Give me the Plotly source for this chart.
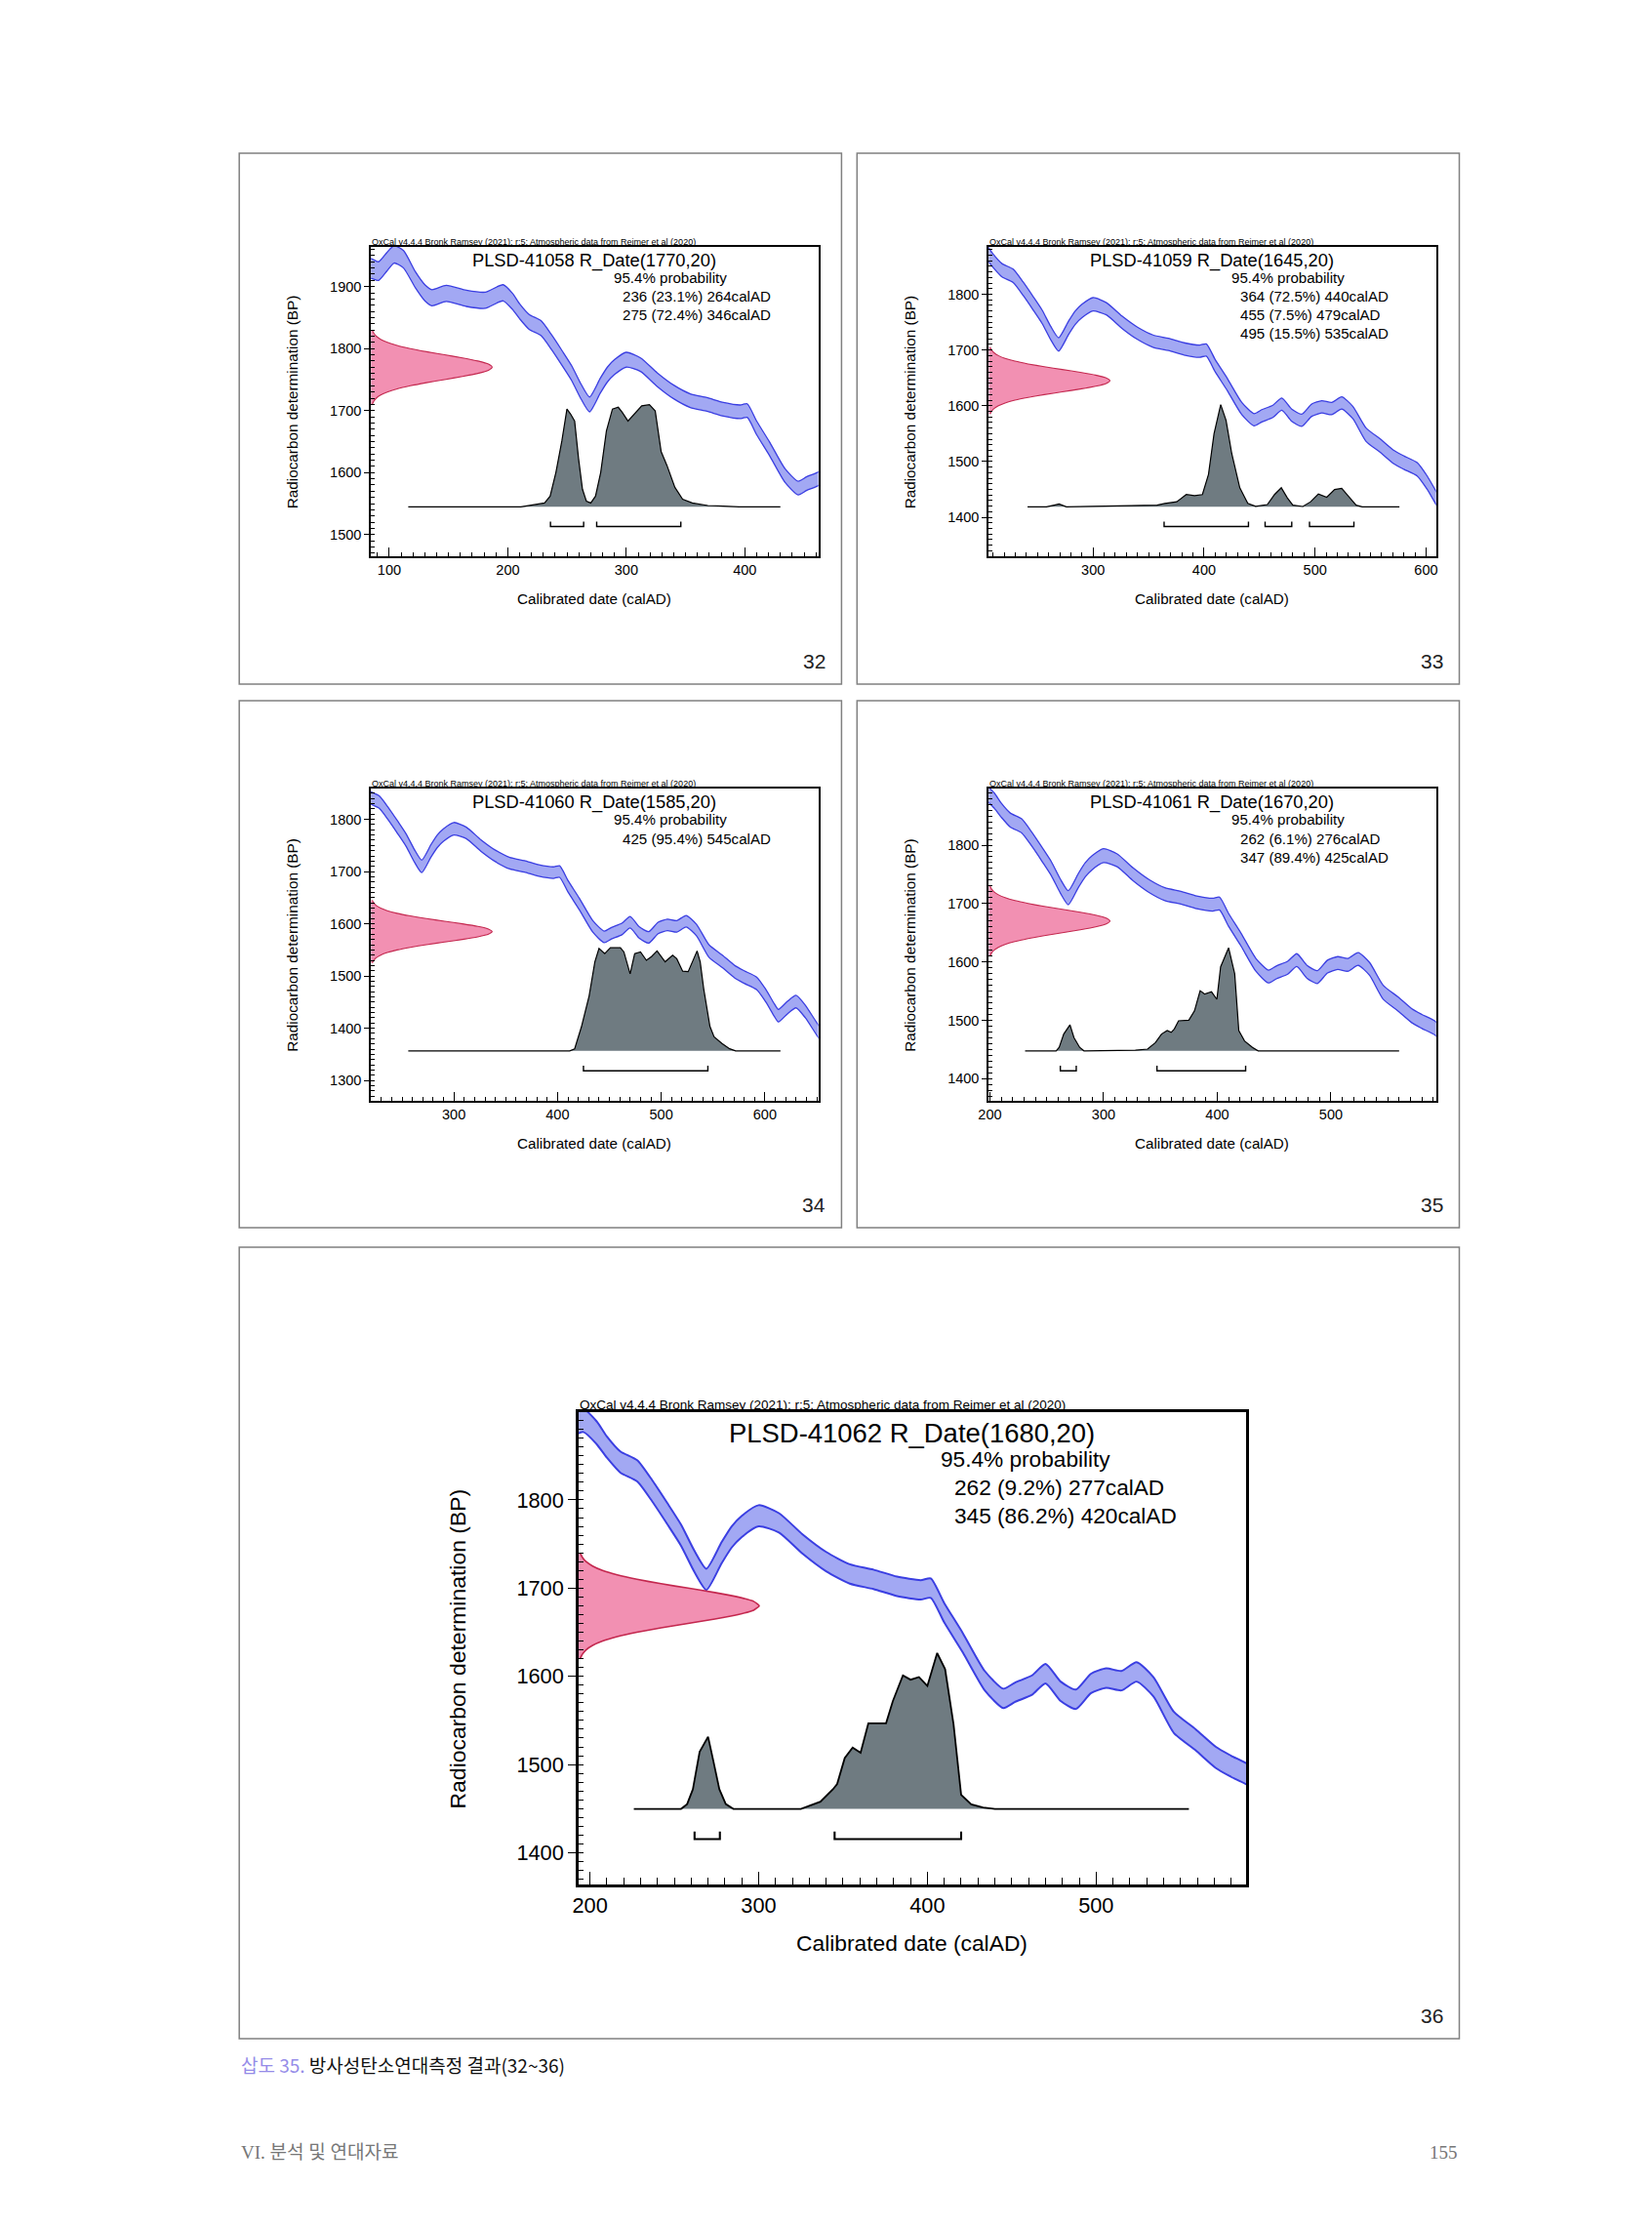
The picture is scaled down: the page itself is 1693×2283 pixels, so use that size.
import plotly.graph_objects as go

W, H = 1693, 2283

# ---------------- data ----------------
# calibration curve (IntCal20) : calendar year AD, BP centre, half width of the band
CAL_X = [80, 85, 91, 98, 104, 112, 122, 130, 136, 148, 165, 181, 196, 204, 210, 218, 228, 237, 246, 254,
         262, 269, 278, 284, 290, 300, 312, 326, 340, 354, 368, 382, 396, 402, 410, 421, 434, 445, 452, 462,
         470, 479, 488, 497, 506, 515, 524, 534, 546, 559, 571, 580, 592, 601, 609, 613, 622, 630, 639, 652, 660]
CAL_BP = [1930, 1929, 1925, 1940, 1952, 1944, 1911, 1890, 1882, 1889, 1881, 1878, 1890, 1876, 1860, 1843, 1833, 1810, 1784, 1760,
          1730, 1710, 1740, 1758, 1770, 1782, 1774, 1750, 1730, 1716, 1710, 1702, 1698, 1700, 1672, 1638, 1595, 1575, 1582, 1590,
          1603, 1583, 1574, 1592, 1598, 1595, 1605, 1588, 1548, 1528, 1508, 1498, 1486, 1462, 1435, 1424, 1440, 1451, 1432, 1393, 1375]
CAL_SIG = [16, 16, 15, 15, 14, 14, 13, 13, 13, 13, 13, 13, 13, 13, 12, 12, 12, 12, 12, 12,
           12, 12, 12, 12, 12, 12, 11, 11, 11, 11, 11, 11, 11, 11, 11, 11, 11, 11, 11, 11,
           11, 11, 11, 11, 11, 11, 11, 11, 12, 12, 12, 12, 12, 12, 12, 12, 12, 12, 12, 12, 12]

# measured radiocarbon date profile (offset from the date in BP, relative height)
RED_OFF = [-60, -55, -50, -45, -40, -35, -30, -25, -20, -15, -10, -5, 0, 5, 10, 15, 20, 25, 30, 35, 40, 45, 50, 55, 60]
RED_H = [0.011, 0.023, 0.044, 0.080, 0.135, 0.216, 0.325, 0.458, 0.607, 0.755, 0.882, 0.969, 1.0,
         0.969, 0.882, 0.755, 0.607, 0.458, 0.325, 0.216, 0.135, 0.080, 0.044, 0.023, 0.011]

NUMS = ["32", "33", "34", "35", "36"]
LABS = ["PLSD-41058", "PLSD-41059", "PLSD-41060", "PLSD-41061", "PLSD-41062"]
BPS = [1770, 1645, 1585, 1670, 1680]
ERRS = [20, 20, 20, 20, 20]

R32_FROM = [236, 275]
R32_PCT = ["23.1", "72.4"]
R32_TO = [264, 346]
R33_FROM = [364, 455, 495]
R33_PCT = ["72.5", "7.5", "15.5"]
R33_TO = [440, 479, 535]
R34_FROM = [425]
R34_PCT = ["95.4"]
R34_TO = [545]
R35_FROM = [262, 347]
R35_PCT = ["6.1", "89.4"]
R35_TO = [276, 425]
R36_FROM = [262, 345]
R36_PCT = ["9.2", "86.2"]
R36_TO = [277, 420]

# calibrated (posterior) distributions, relative probability
D32_X = [116, 211, 221, 231, 235.7, 240.6, 245.6, 249.9, 253, 256.4, 259.7, 263, 266.3, 270, 274, 278.4, 283.2,
         288.3, 293.2, 296.5, 301.4, 306.4, 313, 319.5, 324.4, 329.4, 334.3, 341, 347.5, 355.7, 368.8, 381.9, 395, 430]
D32_P = [0, 0, 0.018, 0.037, 0.104, 0.337, 0.644, 0.957, 0.908, 0.840, 0.472, 0.172, 0.055, 0.037, 0.104, 0.337, 0.742,
         0.957, 0.975, 0.926, 0.840, 0.908, 0.988, 1.0, 0.939, 0.540, 0.405, 0.190, 0.074, 0.037, 0.012, 0.006, 0, 0]
D33_X = [241, 258, 265, 269.4, 276, 343, 357.6, 364.7, 375.4, 384, 391.4, 398.5, 404, 409, 415, 419.8, 425, 432.2,
         439.4, 446.5, 457, 463.5, 469.6, 475, 480, 489, 496, 503, 510.5, 517.6, 524, 530, 537, 542.5, 576]
D33_P = [0, 0, 0.016, 0.027, 0, 0.008, 0.016, 0.033, 0.049, 0.120, 0.109, 0.120, 0.317, 0.716, 1.0, 0.847, 0.519, 0.186,
         0.033, 0.005, 0.022, 0.120, 0.186, 0.087, 0.016, 0.003, 0.049, 0.126, 0.093, 0.169, 0.180, 0.104, 0.016, 0, 0]
D34_X = [256, 411.7, 416.5, 423, 430.5, 436, 440, 445.5, 451, 460.6, 464, 470, 474.4, 480, 485.7, 490.6, 496, 503.8,
         511, 515, 520.7, 526, 534.6, 537.6, 541, 547, 551, 558.6, 566, 571.8, 615]
D34_P = [0, 0, 0.020, 0.232, 0.535, 0.864, 0.995, 0.944, 1.0, 1.0, 0.960, 0.747, 0.944, 0.960, 0.879, 0.914, 0.970, 0.864,
         0.929, 0.894, 0.773, 0.768, 0.970, 0.864, 0.601, 0.237, 0.136, 0.071, 0.020, 0, 0]
D35_X = [231, 258.3, 261, 265, 270.5, 274, 279, 282.8, 328, 338.7, 345.6, 351, 356, 359.5, 362.3, 366, 375, 380, 385,
         389, 395, 399.7, 403, 410, 415.4, 419, 424, 431, 436, 560]
D35_P = [0, 0, 0.034, 0.163, 0.253, 0.129, 0.034, 0, 0.006, 0.017, 0.079, 0.163, 0.197, 0.180, 0.213, 0.292, 0.298, 0.388,
         0.584, 0.551, 0.573, 0.500, 0.815, 1.0, 0.747, 0.197, 0.096, 0.034, 0, 0]
D36_X = [226, 254, 257.6, 261, 265, 270, 273, 276.7, 280.5, 285, 325, 331, 336.6, 344, 346.5, 351, 355.7, 360.4, 365,
         375.5, 379.5, 385.5, 390, 395, 400, 405.8, 410.5, 415.5, 420, 426, 433, 440, 555]
D36_P = [0, 0, 0.031, 0.126, 0.366, 0.463, 0.314, 0.126, 0.031, 0, 0, 0.023, 0.046, 0.126, 0.160, 0.326, 0.394, 0.360,
         0.549, 0.549, 0.691, 0.857, 0.829, 0.846, 0.789, 1.0, 0.897, 0.543, 0.091, 0.029, 0.009, 0, 0]

DIST_X = [D32_X, D33_X, D34_X, D35_X, D36_X]
DIST_P = [D32_P, D33_P, D34_P, D35_P, D36_P]
R_FROM = [R32_FROM, R33_FROM, R34_FROM, R35_FROM, R36_FROM]
R_PCT = [R32_PCT, R33_PCT, R34_PCT, R35_PCT, R36_PCT]
R_TO = [R32_TO, R33_TO, R34_TO, R35_TO, R36_TO]

HEADER = "OxCal v4.4.4 Bronk Ramsey (2021); r:5; Atmospheric data from Reimer et al (2020)"

# ---------------- layout (pixels on the page) ----------------
PANELS = [
    dict(frame=(372, 253, 834, 570), xr=(84.5, 462), yr=(1465, 1964), box=(236, 157, 858, 701), s=1.0, ytg=81, xtg=43),
    dict(frame=(1010, 253, 1472, 570), xr=(206, 609), yr=(1330, 1885), box=(874, 157, 1496, 701), s=1.0, ytg=81, xtg=43),
    dict(frame=(372, 808, 834, 1128), xr=(220, 651.5), yr=(1261, 1859), box=(236, 718, 858, 1258), s=1.0, ytg=81, xtg=43),
    dict(frame=(1010, 808, 1472, 1128), xr=(199, 592.5), yr=(1362, 1897), box=(874, 718, 1496, 1258), s=1.0, ytg=81, xtg=43),
    dict(frame=(586, 1447, 1276, 1931), xr=(193, 589), yr=(1364, 1899.5), box=(236, 1278, 1496, 2089), s=1.5, ytg=124, xtg=60),
]

BAND_FILL = "rgba(152,158,242,0.9)"
BAND_EDGE = "#3a3ee2"
PINK = "#f290b2"
PINK_EDGE = "#c4284f"
GREY = "#6f7b81"
FONT = "Liberation Sans, Arial, sans-serif"

RED_WIDTH_FRAC = 0.271     # peak of measured profile, as fraction of frame width
BASE_FRAC = 0.16           # baseline of calibrated distribution, fraction of frame height
PEAK_FRAC = 0.33           # height of calibrated peak, fraction of frame height


def px(x, y):
    return x / W, 1 - y / H


def aname(prefix, n):
    return prefix + ("" if n == 1 else str(n))


fig = go.Figure()
layout = dict(width=W, height=H, margin=dict(l=0, r=0, t=0, b=0),
              paper_bgcolor="white", plot_bgcolor="rgba(0,0,0,0)", showlegend=False)
annotations = []
shapes = []

for i, P in enumerate(PANELS):
    k = i + 1
    ko = k + 5
    s = P["s"]
    fx0, fy0, fx1, fy1 = P["frame"]
    fw, fh = fx1 - fx0, fy1 - fy0
    xd = [fx0 / W, fx1 / W]
    yd = [1 - fy1 / H, 1 - fy0 / H]
    xm, ym = aname("x", k), aname("y", k)
    xo, yo = aname("x", ko), aname("y", ko)

    tickfont = dict(family=FONT, size=14.5 * s, color="black")
    layout[aname("xaxis", k)] = dict(
        domain=xd, anchor=ym, range=list(P["xr"]), showgrid=False, zeroline=False,
        showline=True, mirror=True, linecolor="black", linewidth=1.8 * s,
        tick0=0, dtick=100, ticks="inside", ticklen=9 * s, tickwidth=1.2, tickcolor="black",
        minor=dict(dtick=10, ticks="inside", ticklen=4.5 * s, tickwidth=1.1, tickcolor="black"),
        tickfont=tickfont, fixedrange=True)
    layout[aname("yaxis", k)] = dict(
        domain=yd, anchor=xm, range=list(P["yr"]), showgrid=False, zeroline=False,
        showline=True, mirror=True, linecolor="black", linewidth=1.8 * s,
        tick0=0, dtick=100, ticks="outside", ticklen=5 * s, tickwidth=1.2, tickcolor="black",
        minor=dict(dtick=10, ticks="inside", ticklen=4 * s, tickwidth=1.1, tickcolor="black"),
        tickfont=tickfont, fixedrange=True)
    layout[aname("xaxis", ko)] = dict(overlaying=xm, anchor=ym, domain=xd,
                                      range=[0, 1 / RED_WIDTH_FRAC], visible=False, fixedrange=True)
    layout[aname("yaxis", ko)] = dict(overlaying=ym, anchor=xm, domain=yd,
                                      range=[-BASE_FRAC / PEAK_FRAC, (1 - BASE_FRAC) / PEAK_FRAC],
                                      visible=False, fixedrange=True)

    # calibration band
    lo = [b - e for b, e in zip(CAL_BP, CAL_SIG)]
    hi = [b + e for b, e in zip(CAL_BP, CAL_SIG)]
    fig.add_trace(go.Scatter(x=CAL_X, y=lo, mode="lines", xaxis=xm, yaxis=ym,
                             line=dict(color=BAND_EDGE, width=1.3 * s, shape="spline", smoothing=0.6),
                             hoverinfo="skip"))
    fig.add_trace(go.Scatter(x=CAL_X, y=hi, mode="lines", xaxis=xm, yaxis=ym, fill="tonexty",
                             fillcolor=BAND_FILL,
                             line=dict(color=BAND_EDGE, width=1.3 * s, shape="spline", smoothing=0.6),
                             hoverinfo="skip"))

    # measured date (red)
    fig.add_trace(go.Scatter(x=RED_H, y=[BPS[i] + o for o in RED_OFF], mode="lines",
                             xaxis=xo, yaxis=ym, fill="tozerox", fillcolor=PINK,
                             line=dict(color=PINK_EDGE, width=1.1 * s, shape="spline", smoothing=0.5),
                             hoverinfo="skip"))

    # calibrated distribution (grey)
    fig.add_trace(go.Scatter(x=DIST_X[i], y=DIST_P[i], mode="lines", xaxis=xm, yaxis=yo,
                             fill="tozeroy", fillcolor=GREY,
                             line=dict(color="black", width=1.2 * s), hoverinfo="skip"))

    # range brackets
    bx, by = [], []
    for a, b in zip(R_FROM[i], R_TO[i]):
        bx += [a, a, b, b, None]
        by += [-0.145, -0.194, -0.194, -0.145, None]
    fig.add_trace(go.Scatter(x=bx, y=by, mode="lines", xaxis=xm, yaxis=yo,
                             line=dict(color="black", width=1.4 * s), hoverinfo="skip"))

    # texts inside panel
    def ann(text, x, y, size, xanchor="left", yanchor="middle", **kw):
        xx, yy = px(x, y)
        d = dict(text=text, x=xx, y=yy, xref="paper", yref="paper", showarrow=False,
                 xanchor=xanchor, yanchor=yanchor, borderpad=0,
                 font=dict(family=FONT, size=size, color=kw.pop("color", "black")))
        d.update(kw)
        annotations.append(d)

    ann(HEADER, fx0, fy0 - 5 * s, 9.0 * s)
    ann(f"{LABS[i]} R_Date({BPS[i]},{ERRS[i]})", fx0 + 0.5 * fw, fy0 + 0.045 * fh, 18.3 * s, xanchor="center")
    ann("95.4% probability", fx0 + 0.541 * fw, fy0 + 0.100 * fh, 15.1 * s)
    for j, (a, p, b) in enumerate(zip(R_FROM[i], R_PCT[i], R_TO[i])):
        ann(f"{a} ({p}%) {b}calAD", fx0 + 0.561 * fw, fy0 + (0.160 + 0.060 * j) * fh, 15.1 * s)
    ann("Radiocarbon determination (BP)", fx0 - P["ytg"], fy0 + fh / 2, 15.3 * s,
        xanchor="center", textangle=-90)
    ann("Calibrated date (calAD)", fx0 + fw / 2, fy1 + P["xtg"], 15.2 * s, xanchor="center")

    # page box and number
    bx0, by0, bx1, by1 = P["box"]
    shapes.append(dict(type="rect", xref="paper", yref="paper",
                       x0=bx0 / W, x1=bx1 / W, y0=1 - by1 / H, y1=1 - by0 / H,
                       line=dict(color="#808080", width=1.5), fillcolor="rgba(0,0,0,0)", layer="below"))
    ann(NUMS[i], bx1 - 16, by1 - 24, 21, xanchor="right", color="#222222")

# caption and footer
cx, cy = px(236, 2115)
annotations.append(dict(text='<span style="color:#958ce8">삽도 35.</span> 방사성탄소연대측정 결과(32~36)',
                        x=cx, y=cy, xref="paper", yref="paper", showarrow=False,
                        xanchor="left", yanchor="middle",
                        font=dict(family="Noto Sans CJK KR", size=19, color="#111111")))
fx_, fy_ = px(236, 2205)
annotations.append(dict(text="VI. 분석 및 연대자료", x=fx_, y=fy_, xref="paper", yref="paper", showarrow=False,
                        xanchor="left", yanchor="middle",
                        font=dict(family="Liberation Serif, Noto Sans CJK KR", size=19, color="#777777")))
rx_, ry_ = px(1496, 2205)
annotations.append(dict(text="155", x=rx_, y=ry_, xref="paper", yref="paper", showarrow=False,
                        xanchor="right", yanchor="middle",
                        font=dict(family="Liberation Serif", size=19, color="#777777")))

layout["annotations"] = annotations
layout["shapes"] = shapes
fig.update_layout(**layout)
fig.write_html("out.html", config={"displayModeBar": False},
               post_script="document.body.style.margin='0px';document.body.style.overflow='hidden';")
